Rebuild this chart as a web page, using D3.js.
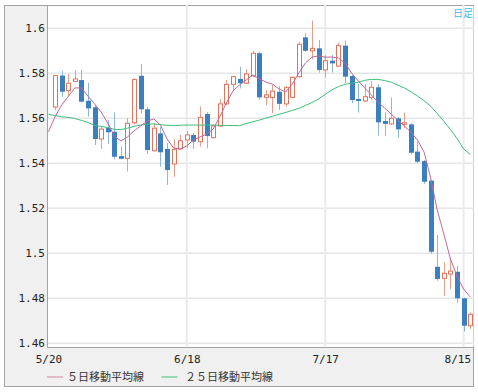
<!DOCTYPE html>
<html>
<head>
<meta charset="utf-8">
<script src="https://cdn.jsdelivr.net/npm/d3@7"></script>
<style>
  body { margin: 0; background: #fff; }
  svg { display: block; }
</style>
</head>
<body>
<svg width="478" height="392"></svg>
<script>
// trading days, first one only carries the moving averages
const dates = [
  "5/20", "5/21", "5/22", "5/23", "5/24", "5/27", "5/28", "5/29", "5/30", "5/31",
  "6/3", "6/4", "6/5", "6/6", "6/7", "6/10", "6/11", "6/12", "6/13", "6/14",
  "6/17", "6/18", "6/19", "6/20", "6/21", "6/24", "6/25", "6/26", "6/27", "6/28",
  "7/1", "7/2", "7/3", "7/4", "7/5", "7/8", "7/9", "7/10", "7/11", "7/12",
  "7/15", "7/16", "7/17", "7/18", "7/19", "7/22", "7/23", "7/24", "7/25", "7/26",
  "7/29", "7/30", "7/31", "8/1", "8/2", "8/5", "8/6", "8/7", "8/8", "8/9",
  "8/12", "8/13", "8/14", "8/15", "8/16"
];

// candles, 5/21 .. 8/16
const opens = [
  1.5650, 1.5790, 1.5723, 1.5764, 1.5770, 1.5678, 1.5649, 1.5508, 1.5558, 1.5540,
  1.5432, 1.5422, 1.5580, 1.5789, 1.5640, 1.5456, 1.5533, 1.5464, 1.5397, 1.5464,
  1.5504, 1.5526, 1.5496, 1.5619, 1.5514, 1.5566, 1.5664, 1.5751, 1.5775, 1.5756,
  1.5788, 1.5889, 1.5693, 1.5692, 1.5718, 1.5664, 1.5693, 1.5785, 1.5960, 1.5900,
  1.5911, 1.5815, 1.5856, 1.5832, 1.5923, 1.5788, 1.5686, 1.5677, 1.5693, 1.5738,
  1.5588, 1.5575, 1.5600, 1.5575, 1.5573, 1.5452, 1.5410, 1.5323, 1.4940, 1.4889,
  1.4908, 1.4918, 1.4800, 1.4678
];
const highs = [
  1.5790, 1.5810, 1.5797, 1.5815, 1.5815, 1.5758, 1.5659, 1.5563, 1.5592, 1.5625,
  1.5476, 1.5600, 1.5778, 1.5841, 1.5649, 1.5580, 1.5561, 1.5490, 1.5507, 1.5526,
  1.5544, 1.5535, 1.5652, 1.5627, 1.5572, 1.5686, 1.5770, 1.5790, 1.5829, 1.5818,
  1.5900, 1.5896, 1.5726, 1.5748, 1.5744, 1.5744, 1.5786, 1.5940, 1.5978, 1.6034,
  1.5948, 1.5881, 1.5881, 1.5936, 1.5945, 1.5793, 1.5752, 1.5752, 1.5766, 1.5752,
  1.5627, 1.5693, 1.5605, 1.5625, 1.5578, 1.5496, 1.5415, 1.5325, 1.5081, 1.4960,
  1.4978, 1.4944, 1.4802, 1.4738
];
const lows = [
  1.5636, 1.5696, 1.5696, 1.5764, 1.5670, 1.5607, 1.5481, 1.5464, 1.5486, 1.5418,
  1.5418, 1.5363, 1.5572, 1.5622, 1.5441, 1.5452, 1.5385, 1.5304, 1.5340, 1.5460,
  1.5467, 1.5464, 1.5474, 1.5467, 1.5510, 1.5562, 1.5659, 1.5723, 1.5733, 1.5753,
  1.5784, 1.5681, 1.5659, 1.5622, 1.5637, 1.5652, 1.5689, 1.5780, 1.5896, 1.5862,
  1.5803, 1.5782, 1.5803, 1.5827, 1.5756, 1.5667, 1.5625, 1.5672, 1.5681, 1.5523,
  1.5523, 1.5570, 1.5514, 1.5556, 1.5441, 1.5400, 1.5308, 1.4997, 1.4878, 1.4812,
  1.4841, 1.4780, 1.4652, 1.4664
];
const closes = [
  1.5790, 1.5718, 1.5756, 1.5775, 1.5674, 1.5644, 1.5508, 1.5552, 1.5538, 1.5429,
  1.5420, 1.5578, 1.5772, 1.5640, 1.5459, 1.5556, 1.5449, 1.5370, 1.5462, 1.5500,
  1.5526, 1.5496, 1.5604, 1.5521, 1.5566, 1.5664, 1.5751, 1.5785, 1.5756, 1.5797,
  1.5889, 1.5693, 1.5704, 1.5721, 1.5664, 1.5736, 1.5782, 1.5929, 1.5900, 1.5911,
  1.5815, 1.5856, 1.5844, 1.5923, 1.5785, 1.5681, 1.5677, 1.5696, 1.5738, 1.5582,
  1.5575, 1.5600, 1.5551, 1.5580, 1.5447, 1.5407, 1.5318, 1.5007, 1.4886, 1.4911,
  1.4921, 1.4800, 1.4678, 1.4729
];

// moving averages, 5/20 .. 8/16
const ma5 = [
  1.5540, 1.5606, 1.5659, 1.5696, 1.5735, 1.5735, 1.5699, 1.5664, 1.5628, 1.5579,
  1.5521, 1.5499, 1.5517, 1.5544, 1.5566, 1.5588, 1.5597, 1.5570, 1.5508, 1.5468,
  1.5464, 1.5477, 1.5504, 1.5517, 1.5530, 1.5552, 1.5606, 1.5668, 1.5721, 1.5748,
  1.5770, 1.5792, 1.5775, 1.5761, 1.5752, 1.5730, 1.5717, 1.5752, 1.5801, 1.5846,
  1.5872, 1.5877, 1.5872, 1.5872, 1.5868, 1.5846, 1.5801, 1.5766, 1.5735, 1.5704,
  1.5672, 1.5646, 1.5619, 1.5592, 1.5566, 1.5539, 1.5504, 1.5450, 1.5335, 1.5192,
  1.5086, 1.4975, 1.4899, 1.4841, 1.4806
];
const ma25 = [
  1.5618, 1.5612, 1.5607, 1.5604, 1.5599, 1.5591, 1.5581, 1.5569, 1.5564, 1.5559,
  1.5551, 1.5550, 1.5556, 1.5564, 1.5570, 1.5574, 1.5575, 1.5572, 1.5569, 1.5568,
  1.5569, 1.5570, 1.5570, 1.5570, 1.5570, 1.5570, 1.5569, 1.5568, 1.5568, 1.5567,
  1.5577, 1.5584, 1.5592, 1.5601, 1.5609, 1.5618, 1.5626, 1.5635, 1.5644, 1.5657,
  1.5670, 1.5686, 1.5706, 1.5726, 1.5741, 1.5751, 1.5756, 1.5760, 1.5769, 1.5773,
  1.5773, 1.5768, 1.5761, 1.5748, 1.5735, 1.5718, 1.5699, 1.5678, 1.5654, 1.5621,
  1.5587, 1.5550, 1.5510, 1.5464, 1.5440
];

const yTicks = [1.46, 1.48, 1.5, 1.52, 1.54, 1.56, 1.58, 1.6];
const xTicks = ["5/20", "6/18", "7/17", "8/15"];
const legendNames = ["５日移動平均線", "２５日移動平均線"];
const legendColors = ["#d895ae", "#5cc890"];

const svg = d3.select("svg");
const plot = { left: 48, right: 474, top: 5, bottom: 347.5 };
const monoFont = "'DejaVu Sans Mono', monospace";
const cjkFont = "'Noto Sans CJK JP', sans-serif";

// frame
svg
  .append("rect")
  .attr("x", 4.5)
  .attr("y", 5.5)
  .attr("width", 469)
  .attr("height", 381)
  .attr("fill", "#f0f0f0")
  .attr("stroke", "#a3a3a3");
svg
  .append("rect")
  .attr("x", plot.left)
  .attr("y", plot.top + 1)
  .attr("width", plot.right - plot.left - 0.5)
  .attr("height", plot.bottom - plot.top - 1)
  .attr("fill", "#fff");

const x = d3
  .scalePoint()
  .domain(dates)
  .range([48.4, 470.2]);
const y = d3
  .scaleLinear()
  .domain([1.46, 1.6])
  .range([343.3, 28.3]);

// grid
svg
  .append("g")
  .selectAll("line")
  .data(yTicks)
  .enter()
  .append("line")
  .attr("x1", plot.left)
  .attr("x2", plot.right)
  .attr("y1", d => y(d))
  .attr("y2", d => y(d))
  .attr("stroke", "#e6e6e6")
  .attr("stroke-width", 1.5);
svg
  .append("g")
  .selectAll("line")
  .data(xTicks.slice(1))
  .enter()
  .append("line")
  .attr("x1", d => x(d))
  .attr("x2", d => x(d))
  .attr("y1", plot.top)
  .attr("y2", plot.bottom)
  .attr("stroke", "#ebebeb")
  .attr("stroke-width", 2);

// plot border (left + bottom)
svg
  .append("path")
  .attr("d", `M${plot.left - 0.5},${plot.top}V${plot.bottom}H${plot.right}`)
  .attr("fill", "none")
  .attr("stroke", "#a3a3a3");

// candles
const candles = opens.map((o, i) => ({
  date: dates[i + 1],
  open: o,
  high: highs[i],
  low: lows[i],
  close: closes[i]
}));
const cg = svg
  .selectAll("g.candle")
  .data(candles)
  .enter()
  .append("g")
  .attr("class", "candle");
cg
  .append("line")
  .attr("x1", d => Math.round(x(d.date)) + 0.5)
  .attr("x2", d => Math.round(x(d.date)) + 0.5)
  .attr("y1", d => y(d.high))
  .attr("y2", d => y(d.low))
  .attr("stroke", d => (d.close >= d.open ? "#ec9b86" : "#8db6dd"));
cg
  .append("rect")
  .attr("x", d => Math.round(x(d.date)) - 2 + (d.close >= d.open ? 0.5 : 0))
  .attr("width", d => (d.close >= d.open ? 4 : 5))
  .attr("y", d => y(Math.max(d.open, d.close)))
  .attr("height", d => Math.max(1.5, Math.abs(y(d.open) - y(d.close))))
  .attr("fill", d => (d.close >= d.open ? "#fff" : "#3c7fbe"))
  .attr("stroke", d => (d.close >= d.open ? "#e2705a" : "none"));

// moving averages
const line = d3
  .line()
  .x((d, i) => x(dates[i]))
  .y(d => y(d));
svg
  .append("path")
  .datum(ma25)
  .attr("d", line)
  .attr("fill", "none")
  .attr("stroke", "#3fbd7a")
  .attr("stroke-width", 1);
svg
  .append("path")
  .datum(ma5)
  .attr("d", line)
  .attr("fill", "none")
  .attr("stroke", "#c0689a")
  .attr("stroke-width", 1);

// axes
const yAxisG = svg
  .append("g")
  .attr("transform", `translate(${plot.left},0)`)
  .call(
    d3
      .axisLeft(y)
      .tickValues(yTicks)
      .tickSize(0)
      .tickPadding(3)
      .tickFormat(d => String(+d.toFixed(2)))
  );
yAxisG.select(".domain").remove();
yAxisG
  .selectAll("text")
  .attr("font-family", monoFont)
  .attr("font-size", "11px")
  .attr("fill", "#222");

const xAxisG = svg
  .append("g")
  .attr("transform", `translate(0,${plot.bottom})`)
  .call(
    d3
      .axisBottom(x)
      .tickValues(xTicks)
      .tickSize(0)
      .tickPadding(8)
  );
xAxisG.select(".domain").remove();
xAxisG
  .selectAll("text")
  .attr("font-family", monoFont)
  .attr("font-size", "11px")
  .attr("fill", "#222");
// last label is pulled inside the frame
xAxisG
  .selectAll("text")
  .filter(d => d === "8/15")
  .attr("text-anchor", "end")
  .attr("dx", 7);

// legend
const legend = svg
  .append("g")
  .selectAll("g")
  .data(legendNames)
  .enter()
  .append("g")
  .attr("transform", (d, i) => `translate(${[47, 161.5][i]},377)`);
legend
  .append("line")
  .attr("x1", 0)
  .attr("x2", 16)
  .attr("stroke", (d, i) => legendColors[i])
  .attr("stroke-width", 1.2);
legend
  .append("text")
  .attr("x", (d, i) => [20, 23.5][i])
  .attr("y", 4)
  .attr("font-family", cjkFont)
  .attr("font-size", "11px")
  .attr("fill", "#333")
  .text(d => d);

// period label
svg
  .append("text")
  .attr("x", 473)
  .attr("y", 17)
  .attr("text-anchor", "end")
  .attr("font-family", cjkFont)
  .attr("font-size", "10px")
  .attr("fill", "#3cc0f0")
  .text("日足");
</script>
</body>
</html>
